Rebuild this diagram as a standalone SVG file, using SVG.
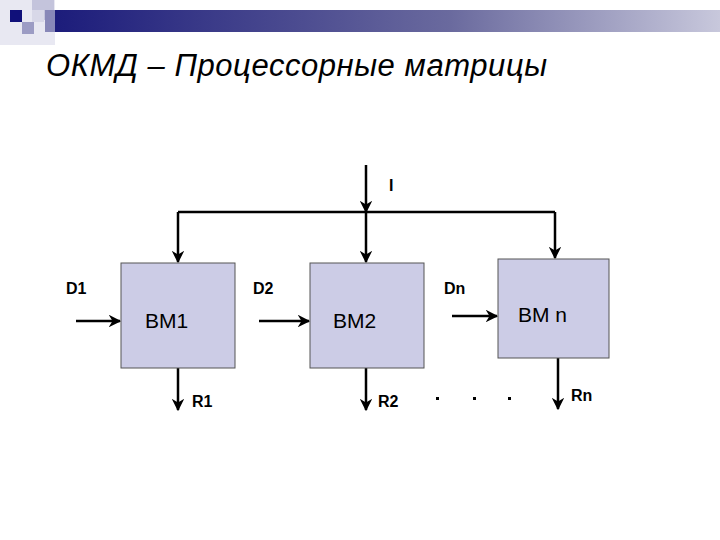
<svg xmlns="http://www.w3.org/2000/svg" width="720" height="540" viewBox="0 0 720 540">
<defs>
<linearGradient id="g" x1="0" x2="1"><stop offset="0" stop-color="#1a1a7a"/><stop offset="0.6" stop-color="#6a6a9e"/><stop offset="1" stop-color="#c8c8dc"/></linearGradient>
<marker id="a" viewBox="0 0 10 10" refX="9" refY="5" markerWidth="5" markerHeight="5" orient="auto"><path d="M0,0 L10,5 L0,10 L3,5 Z" fill="#000"/></marker>
<style>.b{fill:#ccccE6;stroke:#555;stroke-width:1}.l{stroke:#000;stroke-width:2.5;fill:none}.c{stroke:#000;stroke-width:2.5;fill:none;marker-end:url(#a)}.t{font-family:"Liberation Sans",Arial,sans-serif;font-size:16px;font-weight:bold}.n{font-family:"Liberation Sans",Arial,sans-serif;font-size:21px}</style>
</defs>
<rect x="45" y="10" width="675" height="22" fill="url(#g)"/>
<rect x="0" y="0" width="55" height="45" fill="#e8e8f2"/>
<rect x="32" y="0" width="22" height="20" fill="#c4c4dc"/>
<rect x="10" y="10" width="12" height="12" fill="#10107a"/>
<rect x="22" y="22" width="12" height="12" fill="#9c9cc4"/>
<rect x="32" y="10" width="12" height="12" fill="#d8d8e8"/>
<rect x="45" y="10" width="10" height="22" fill="#8888b8"/>
<text x="46" y="76" font-family="'Liberation Sans',Arial,sans-serif" font-size="31" font-style="italic" textLength="501">ОКМД – Процессорные матрицы</text>
<g id="connectors">
<path class="c" d="M366,165 V212"/>
<path class="l" d="M178,212 H555"/>
<path class="c" d="M178,212 V262"/>
<path class="c" d="M366,212 V262"/>
<path class="c" d="M555,212 V258"/>
<path class="c" d="M76,321 H120"/>
<path class="c" d="M259,321 H309"/>
<path class="c" d="M452,316 H497"/>
<path class="c" d="M178,368 V410"/>
<path class="c" d="M366,368 V410"/>
<path class="c" d="M558,358 V409"/>
</g>
<g id="bm1"><rect class="b" x="121" y="263" width="114" height="105"/><text class="n" x="145" y="328">BM1</text></g>
<g id="bm2"><rect class="b" x="310" y="263" width="114" height="105"/><text class="n" x="333" y="328">BM2</text></g>
<g id="bmn"><rect class="b" x="498" y="259" width="111" height="99"/><text class="n" x="518" y="322">BM n</text></g>
<g id="labels">
<text class="t" x="389" y="191">I</text>
<text class="t" x="66" y="294">D1</text>
<text class="t" x="253" y="294">D2</text>
<text class="t" x="444" y="294">Dn</text>
<text class="t" x="192" y="407">R1</text>
<text class="t" x="378" y="407">R2</text>
<text class="t" x="571" y="401">Rn</text>
<rect x="436" y="397" width="3" height="3"/><rect x="473" y="397" width="3" height="3"/><rect x="508" y="397" width="3" height="3"/>
</g>
</svg>
